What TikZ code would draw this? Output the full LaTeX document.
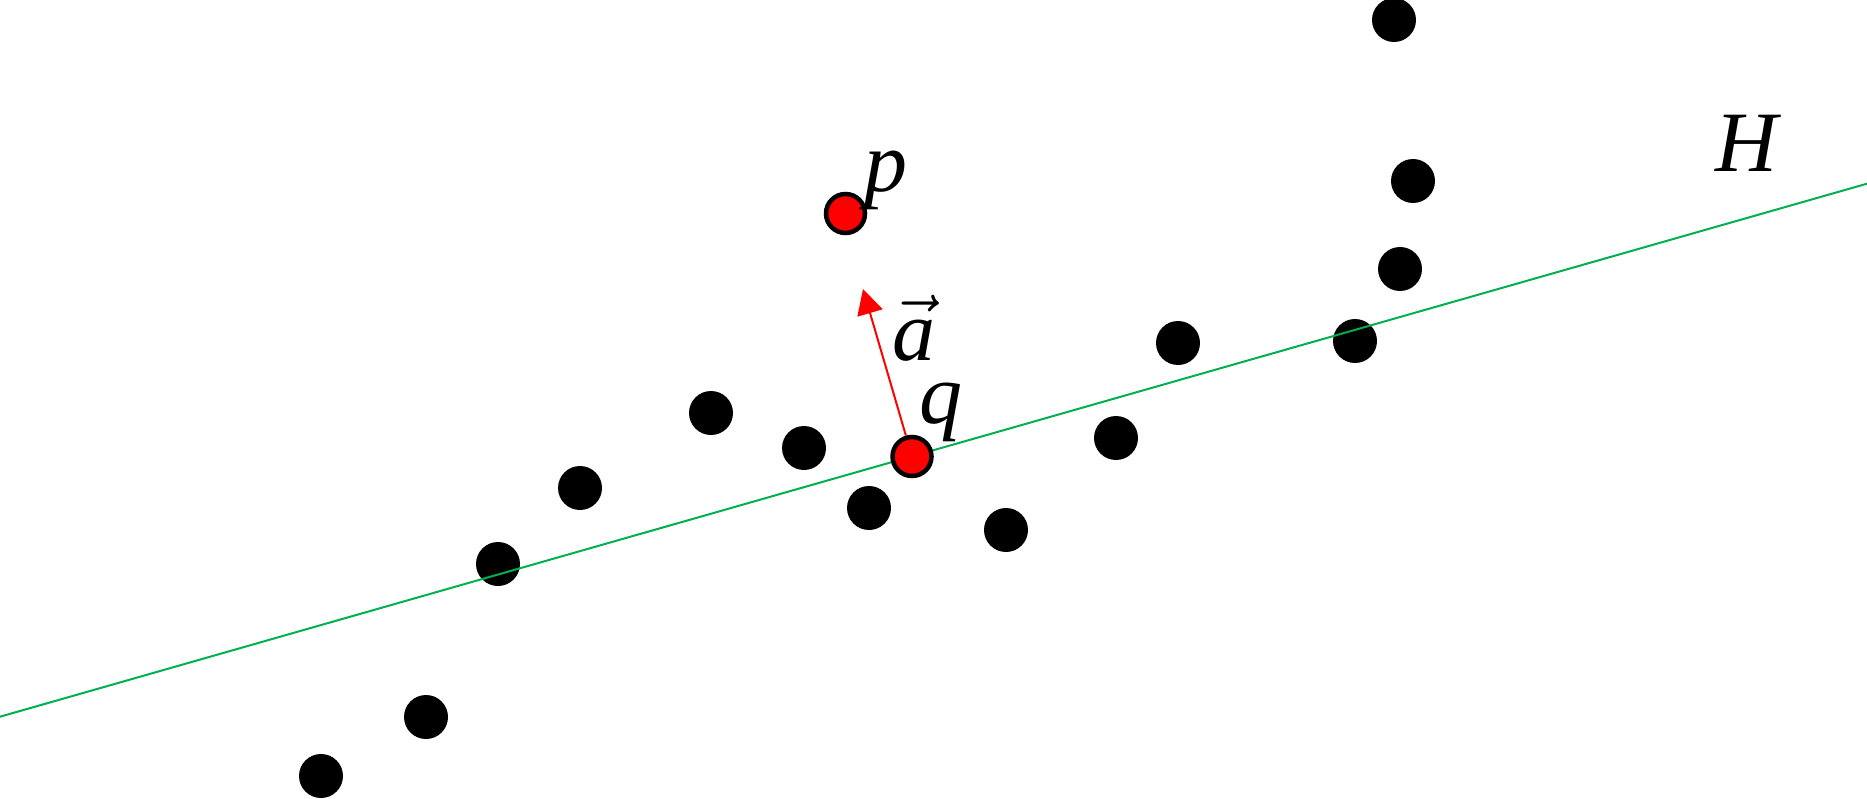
\RequirePackage{fix-cm}
\documentclass[tikz,border=0pt]{standalone}
\usepackage{fontspec}
\setmainfont{Liberation Serif}
\usetikzlibrary{arrows.meta}
\definecolor{hgreen}{RGB}{0,176,80}
\tikzset{
  blackpt/.style={circle,fill=black,inner sep=0pt,minimum size=44pt},
  redpt/.style={circle,fill=red,draw=black,line width=4.5pt,inner sep=0pt,minimum size=39pt},
  lbl/.style={anchor=base,inner sep=0pt,font=\fontsize{86}{90}\selectfont\itshape},
  hline/.style={hgreen,line width=2pt},
  avec/.style={red,line width=2pt,-{Triangle[length=25pt,width=26pt]}}
}
\begin{document}
\begin{tikzpicture}[x=1pt,y=-1pt]
\useasboundingbox (0,0) rectangle (1867,799);
\node[blackpt] (b1) at (1394,20) {};
\node[blackpt] (b2) at (1413,181) {};
\node[blackpt] (b3) at (1400,269) {};
\node[blackpt] (b4) at (1178,343) {};
\node[blackpt] (b5) at (1355,341) {};
\node[blackpt] (b6) at (1116,438) {};
\node[blackpt] (b7) at (1006,530) {};
\node[blackpt] (b8) at (869,508) {};
\node[blackpt] (b9) at (804,448) {};
\node[blackpt] (b10) at (711,413) {};
\node[blackpt] (b11) at (580,488) {};
\node[blackpt] (b12) at (498,564) {};
\node[blackpt] (b13) at (426,717) {};
\node[blackpt] (b14) at (321,776) {};
\coordinate (hl) at (0,716.7);
\coordinate (hr) at (1867,183.7);
\draw[hline] (hl) -- (hr);
\node[redpt] (p) at (845.5,213.5) {};
\node[redpt] (q) at (912,456.5) {};
\coordinate (tip) at (863,289);
\draw[avec] (q) -- (tip);
\node[lbl] (lp) at (886,192) {p};
\node[lbl] (lq) at (941,423) {q};
\node[lbl] (la) at (914,360) {$\vec{\mbox{\itshape a}}$};
\node[lbl] (lH) at (1747,172) {H};
\end{tikzpicture}
\end{document}
